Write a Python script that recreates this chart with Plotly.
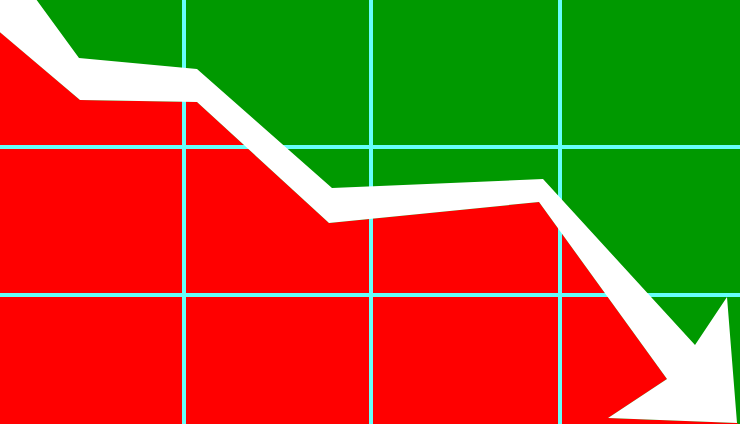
import plotly.graph_objects as go

# Grid line positions (pixel-like coordinates, y measured from top)
grid_x = [184, 371, 560]
grid_y = [147, 295]

# Red "loss" area: below the falling arrow
red_x = [0, 80, 197, 329, 539, 667, 608, 737, 745, 745, -5, -5]
red_y = [32, 100, 102, 223, 202, 379, 418, 423, 428, 428, 428, 32]

# White falling arrow (outline polygon)
white_x = [-5, 33, 79, 197, 332, 543, 695, 727, 737, 608, 667, 539, 329, 197, 80, 0, -5]
white_y = [-5, -5, 58, 69, 188, 179, 345, 297, 423, 418, 379, 202, 223, 102, 100, 32, 28]

GREEN = "#009900"
RED = "#FF0000"
CYAN = "#66FFFA"
WHITE = "#FFFFFF"

fig = go.Figure()

fig.add_trace(go.Scatter(x=red_x, y=red_y, fill="toself", fillcolor=RED,
                         mode="lines", line=dict(width=0, color=RED),
                         hoverinfo="skip", showlegend=False))

gx, gy = [], []
for x in grid_x:
    gx += [x, x, None]
    gy += [-10, 434, None]
for y in grid_y:
    gx += [-10, 750, None]
    gy += [y, y, None]
fig.add_trace(go.Scatter(x=gx, y=gy, mode="lines", line=dict(width=4, color=CYAN),
                         hoverinfo="skip", showlegend=False))

fig.add_trace(go.Scatter(x=white_x, y=white_y, fill="toself", fillcolor=WHITE,
                         mode="lines", line=dict(width=0, color=WHITE),
                         hoverinfo="skip", showlegend=False))

fig.update_layout(
    width=740, height=424,
    margin=dict(l=0, r=0, t=0, b=0),
    paper_bgcolor=GREEN, plot_bgcolor=GREEN,
    xaxis=dict(range=[0, 740], visible=False, fixedrange=True),
    yaxis=dict(range=[424, 0], visible=False, fixedrange=True),
    showlegend=False,
)

fig.write_html(
    "out.html",
    config={"displayModeBar": False},
    post_script="document.body.style.margin='0';document.body.style.padding='0';"
                "document.body.style.overflow='hidden';"
                "document.body.style.background='" + GREEN + "';",
)
